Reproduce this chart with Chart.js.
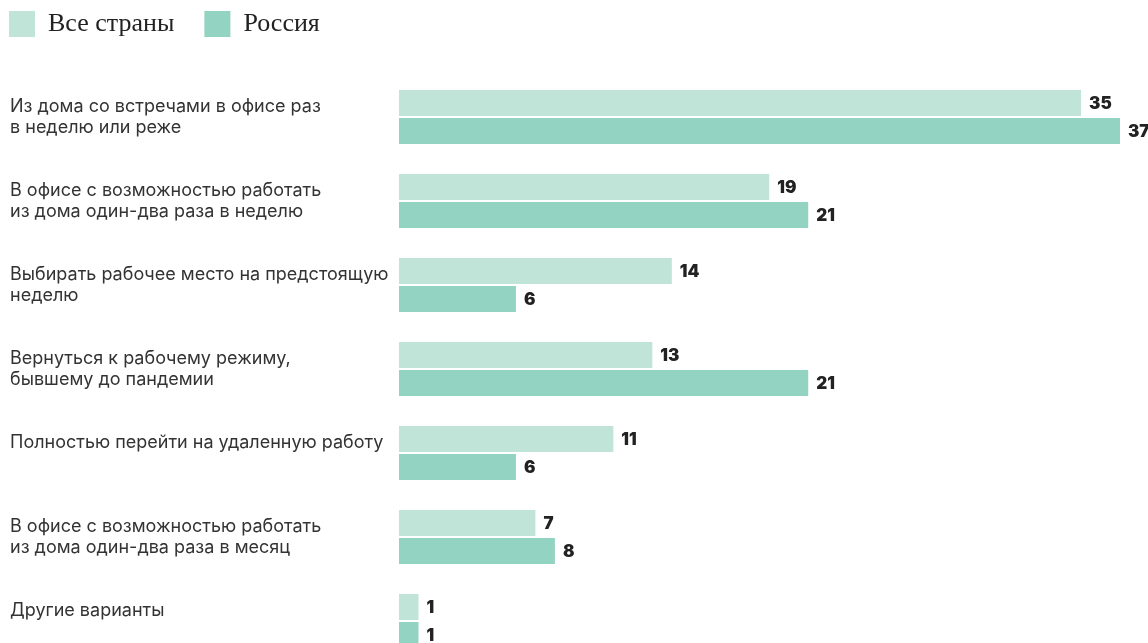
<!DOCTYPE html>
<html lang="ru">
<head>
<meta charset="utf-8">
<title>Предпочтительный формат работы</title>
<script src="https://cdn.jsdelivr.net/npm/chart.js@4"></script>
<style>
  html, body { margin: 0; padding: 0; background: #fff; overflow: hidden; height: 643px; }
  #chart { display: block; }
</style>
</head>
<body>
<!-- taller than the window: the last group runs past the lower edge, as in the source -->
<canvas id="chart" width="1148" height="670"></canvas>
<script>
const categories = [
  ["Из дома со встречами в офисе раз", "в неделю или реже"],
  ["В офисе с возможностью работать", "из дома один-два раза в неделю"],
  ["Выбирать рабочее место на предстоящую", "неделю"],
  ["Вернуться к рабочему режиму,", "бывшему до пандемии"],
  ["Полностью перейти на удаленную работу", ""],
  ["В офисе с возможностью работать", "из дома один-два раза в месяц"],
  ["Другие варианты", ""],
];
const allCountries = [35, 19, 14, 13, 11, 7, 1];
const russia = [37, 21, 6, 21, 6, 8, 1];

const lightGreen = "#c0e4d8";
const darkGreen = "#93d3c2";

const legendPad = 30;

// legend sits flush top-left and leaves room above the bars
const legendTweak = {
  id: "legendTweak",
  beforeInit(chart) {
    const fit = chart.legend.fit;
    chart.legend.fit = function () {
      fit.call(this);
      this.height = 73;
    };
  },
  afterLayout(chart) {
    chart.legend.left = 9 - legendPad;
    chart.legend.top = 11 - legendPad;
  },
};

const valueLabels = {
  id: "valueLabels",
  afterDatasetsDraw(chart) {
    const ctx = chart.ctx;
    ctx.save();
    ctx.font = "900 17px Inter";
    ctx.fillStyle = "#222";
    ctx.textBaseline = "middle";
    ctx.textAlign = "left";
    chart.data.datasets.forEach((ds, i) => {
      chart.getDatasetMeta(i).data.forEach((bar, j) => {
        ctx.fillText(ds.data[j], bar.x + 8, bar.y + 1);
      });
    });
    ctx.restore();
  },
};

new Chart(document.getElementById("chart").getContext("2d"), {
  type: "bar",
  data: {
    labels: categories,
    datasets: [
      {
        label: "Все страны",
        data: allCountries,
        backgroundColor: lightGreen,
        borderWidth: 0,
        barPercentage: 0.93,
        categoryPercentage: 0.667,
      },
      {
        label: "Россия",
        data: russia,
        backgroundColor: darkGreen,
        borderWidth: 0,
        barPercentage: 0.93,
        categoryPercentage: 0.667,
      },
    ],
  },
  options: {
    indexAxis: "y",
    responsive: false,
    animation: false,
    layout: { padding: { left: 10, right: 28, top: 2, bottom: 7 } },
    scales: {
      x: { min: 0, max: 37, display: false },
      y: {
        grid: { display: false },
        border: { display: false },
        ticks: {
          crossAlign: "far",
          color: "#333",
          font: { family: "Inter", size: 18, lineHeight: 1.17 },
        },
        afterFit: (scale) => {
          scale.width = 389;
          scale.paddingTop = 0;
          scale.paddingBottom = 0;
        },
      },
    },
    plugins: {
      legend: {
        position: "top",
        align: "start",
        labels: {
          boxWidth: 26,
          boxHeight: 26,
          padding: legendPad,
          color: "#222",
          font: { family: "Liberation Serif", size: 26 },
        },
      },
      tooltip: { enabled: false },
    },
  },
  plugins: [legendTweak, valueLabels],
});
</script>
</body>
</html>
